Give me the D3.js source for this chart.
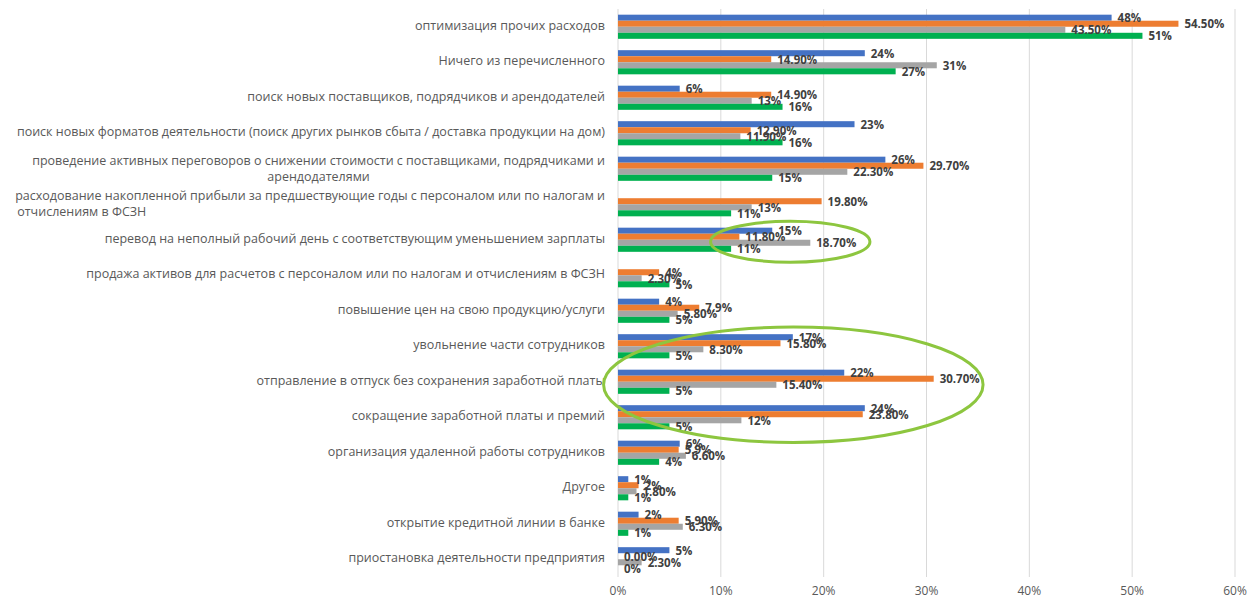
<!DOCTYPE html>
<html>
<meta charset="utf-8">
<style>
  body {margin:0; background:#fff;}
  text {font-family: "Open Sans", sans-serif;}
</style>
<body>
<svg id="svg1" width="1248" height="599"></svg>
<script src="https://cdn.jsdelivr.net/npm/d3@7"></script>
<script>
// categories, top to bottom (one array of lines per label)
var categories = [
  ["оптимизация прочих расходов"],
  ["Ничего из перечисленного"],
  ["поиск новых поставщиков, подрядчиков и арендодателей"],
  ["поиск новых форматов деятельности (поиск других рынков сбыта / доставка продукции на дом)"],
  ["проведение активных переговоров о снижении стоимости с поставщиками, подрядчиками и", "арендодателями"],
  ["расходование накопленной прибыли за предшествующие годы с персоналом или по налогам и", "отчислениям в ФСЗН"],
  ["перевод на неполный рабочий день с соответствующим уменьшением зарплаты"],
  ["продажа активов для расчетов с персоналом или по налогам и отчислениям в ФСЗН"],
  ["повышение цен на свою продукцию/услуги"],
  ["увольнение части сотрудников"],
  ["отправление в отпуск без сохранения заработной платы"],
  ["сокращение заработной платы и премий"],
  ["организация удаленной работы сотрудников"],
  ["Другое"],
  ["открытие кредитной линии в банке"],
  ["приостановка деятельности предприятия"]
];
// how the second line of a wrapped label sits: centred or flush left
var wrapAlign = ["", "", "", "", "center", "left", "", "", "", "", "", "", "", "", "", ""];

var blueVals   = [48, 24, 6, 23, 26, null, 15, null, 4, 17, 22, 24, 6, 1, 2, 5];
var orangeVals = [54.5, 14.9, 14.9, 12.9, 29.7, 19.8, 11.8, 4, 7.9, 15.8, 30.7, 23.8, 5.9, 2, 5.9, 0];
var grayVals   = [43.5, 31, 13, 11.9, 22.3, 13, 18.7, 2.3, 5.8, 8.3, 15.4, 12, 6.6, 1.8, 6.3, 2.3];
var greenVals  = [51, 27, 16, 16, 15, 11, 11, 5, 5, 5, 5, 5, 4, 1, 1, 0];

var blueLabels   = ["48%","24%","6%","23%","26%",null,"15%",null,"4%","17%","22%","24%","6%","1%","2%","5%"];
var orangeLabels = ["54.50%","14.90%","14.90%","12.90%","29.70%","19.80%","11.80%","4%","7.9%","15.80%","30.70%","23.80%","5.9%","2%","5.90%","0.00%"];
var grayLabels   = ["43.50%","31%","13%","11.90%","22.30%","13%","18.70%","2.30%","5.80%","8.30%","15.40%","12%","6.60%","1.80%","6.30%","2.30%"];
var greenLabels  = ["51%","27%","16%","16%","15%","11%","11%","5%","5%","5%","5%","5%","4%","1%","1%","0%"];

var seriesColors = ["#4472c4", "#ed7d31", "#a5a5a5", "#00b050"];
var xTicks = [0, 10, 20, 30, 40, 50, 60];

var series = [
  {vals: blueVals, labels: blueLabels},
  {vals: orangeVals, labels: orangeLabels},
  {vals: grayVals, labels: grayLabels},
  {vals: greenVals, labels: greenLabels}
];

var svg = d3.select("#svg1");
var plotLeft = 618, plotRight = 1235, plotTop = 9, plotBottom = 577;

var x = d3.scaleLinear().domain([0, 60]).range([plotLeft, plotRight]);
var y = d3.scaleBand().domain(d3.range(categories.length)).range([plotTop, plotBottom]).paddingInner(0.32).paddingOuter(0.16);
var ys = d3.scaleBand().domain(d3.range(series.length)).range([0, y.bandwidth()]);

// grid
svg.append("g").selectAll("line").data(xTicks).enter().append("line")
  .attr("x1", function(d){return x(d)}).attr("x2", function(d){return x(d)})
  .attr("y1", plotTop).attr("y2", plotBottom)
  .style("stroke", "#d9d9d9").style("stroke-width", 1);

// tick labels
svg.append("g").selectAll("text").data(xTicks).enter().append("text")
  .attr("x", function(d){return x(d)}).attr("y", 595)
  .attr("text-anchor", "middle")
  .style("font-size", "12px").style("fill", "#595959")
  .text(function(d){return d + "%"});

// category labels
var cat = svg.append("g").selectAll("text").data(categories).enter().append("text")
  .style("font-size", "12.5px").style("fill", "#595959");
cat.each(function(lines, i) {
  var t = d3.select(this);
  var cy = y(i) + y.bandwidth() / 2;
  if (lines.length == 1) {
    t.attr("x", plotLeft - 13).attr("y", cy + 3).attr("text-anchor", "end").text(lines[0]);
    return;
  }
  var first = t.append("tspan").attr("x", plotLeft - 13).attr("y", cy - 4).attr("text-anchor", "end").text(lines[0]);
  var w = first.node().getComputedTextLength();
  var x0 = plotLeft - 13 - w;
  if (wrapAlign[i] == "center") {
    t.append("tspan").attr("x", x0 + w / 2).attr("y", cy + 12).attr("text-anchor", "middle").text(lines[1]);
  } else {
    t.append("tspan").attr("x", x0 + 2).attr("y", cy + 12).attr("text-anchor", "start").text(lines[1]);
  }
});

// bars and value labels
series.forEach(function(s, k) {
  var pts = s.vals.map(function(v, i){return {v: v, i: i, t: s.labels[i]}})
    .filter(function(d){return d.v != null});
  s.pts = pts;
  svg.append("g").selectAll("rect").data(pts).enter().append("rect")
    .attr("x", plotLeft)
    .attr("y", function(d){return y(d.i) + ys(k)})
    .attr("width", function(d){return x(d.v) - plotLeft})
    .attr("height", ys.bandwidth())
    .style("fill", seriesColors[k]);
});

series.forEach(function(s, k) {
  svg.append("g").selectAll("text").data(s.pts).enter().append("text")
    .attr("x", function(d){return x(d.v) + 6})
    .attr("y", function(d){return y(d.i) + ys(k) + ys.bandwidth() / 2 + 4.5})
    .style("font-size", "11.5px").style("font-weight", "bold").style("fill", "#404040")
    .text(function(d){return d.t});
});

// highlight ellipses
var rings = [
  {row: 6, from: 9, to: 24.5, rowsSpan: 1.15, dy: 2},
  {row: 10, from: -1.4, to: 35.5, rowsSpan: 3.25, dy: 3}
];
svg.append("g").selectAll("ellipse").data(rings).enter().append("ellipse")
  .attr("cx", function(d){return (x(d.from) + x(d.to)) / 2})
  .attr("cy", function(d){return y(d.row) + y.bandwidth() / 2 + d.dy})
  .attr("rx", function(d){return (x(d.to) - x(d.from)) / 2})
  .attr("ry", function(d){return d.rowsSpan * y.step() / 2})
  .style("fill", "none").style("stroke", "#8dc63f").style("stroke-width", 3);
</script>
</body>
</html>
